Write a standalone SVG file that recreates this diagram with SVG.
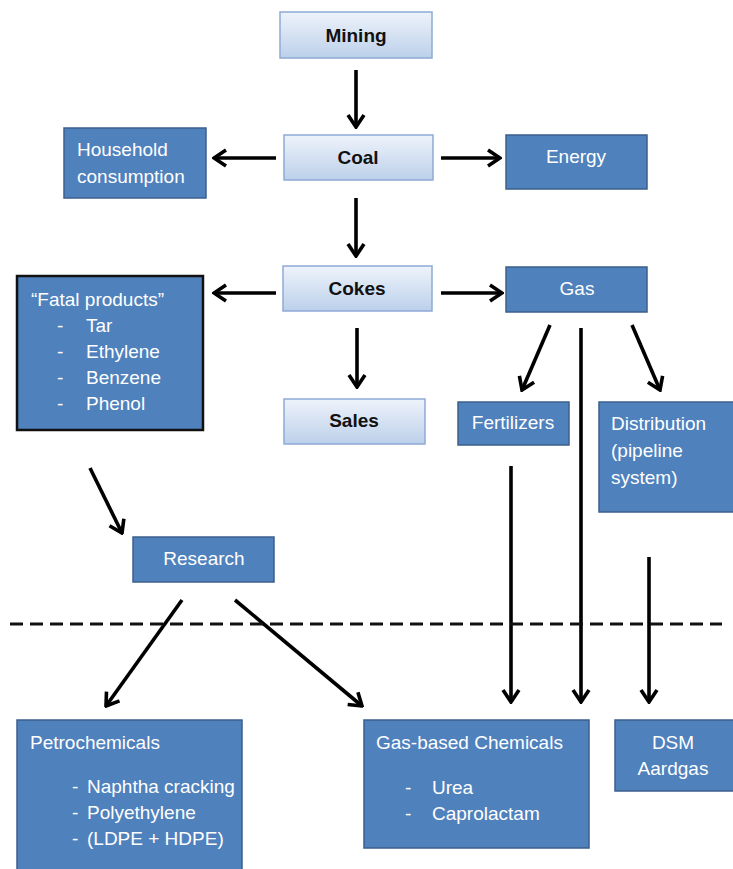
<svg xmlns="http://www.w3.org/2000/svg" width="733" height="869" viewBox="0 0 733 869">
<defs>
<linearGradient id="lg" x1="0" y1="0" x2="0" y2="1">
<stop offset="0" stop-color="#eef3fb"/>
<stop offset="1" stop-color="#bcd0ea"/>
</linearGradient>
<marker id="ah" viewBox="0 0 16 20" refX="14" refY="10" markerWidth="16" markerHeight="20" markerUnits="userSpaceOnUse" orient="auto">
<path d="M2,2 L14,10 L2,18" fill="none" stroke="#000" stroke-width="3.6" stroke-linejoin="miter"/>
</marker>
<style>
.light{fill:url(#lg);stroke:#8eaad6;stroke-width:1.5}
.blue{fill:#4f81bd;stroke:#3b5f8c;stroke-width:1.5}
.fatal{fill:#4f81bd;stroke:#111;stroke-width:2.5}
.tb{font-family:"Liberation Sans",Arial,sans-serif;font-size:19px;font-weight:bold;fill:#111;text-anchor:middle}
.tw{font-family:"Liberation Sans",Arial,sans-serif;font-size:19px;fill:#fff}
.c{text-anchor:middle}
.arr{stroke:#000;stroke-width:3.6;fill:none;marker-end:url(#ah)}
.dash{stroke:#111;stroke-width:3;stroke-dasharray:13 7;fill:none}
</style>
</defs>
<rect width="733" height="869" fill="#fff"/>

<g id="connectors">
<line class="arr" x1="356" y1="70" x2="356" y2="127"/>
<line class="arr" x1="276" y1="158" x2="214" y2="158"/>
<line class="arr" x1="441" y1="158" x2="500" y2="158"/>
<line class="arr" x1="356" y1="198" x2="356" y2="256"/>
<line class="arr" x1="276" y1="293" x2="214" y2="293"/>
<line class="arr" x1="441" y1="293" x2="502" y2="293"/>
<line class="arr" x1="357" y1="328" x2="357" y2="387"/>
<line class="arr" x1="550" y1="325" x2="522" y2="390"/>
<line class="arr" x1="632" y1="325" x2="660" y2="390"/>
<line class="arr" x1="581" y1="328" x2="581" y2="702"/>
<line class="arr" x1="511" y1="466" x2="511" y2="702"/>
<line class="arr" x1="649" y1="557" x2="649" y2="702"/>
<line class="arr" x1="90" y1="468" x2="122" y2="533"/>
<line class="arr" x1="182" y1="600" x2="106" y2="706"/>
<line class="arr" x1="235" y1="600" x2="362" y2="706"/>
<line class="dash" x1="10" y1="624" x2="722" y2="624"/>
</g>

<g id="mining">
<rect class="light" x="280" y="12" width="152" height="46"/>
<text class="tb" x="356" y="42">Mining</text>
</g>
<g id="coal">
<rect class="light" x="284" y="135" width="149" height="45"/>
<text class="tb" x="358" y="164">Coal</text>
</g>
<g id="household">
<rect class="blue" x="64" y="128" width="142" height="70"/>
<text class="tw" x="77" y="156">Household</text>
<text class="tw" x="77" y="183">consumption</text>
</g>
<g id="energy">
<rect class="blue" x="506" y="135" width="141" height="54"/>
<text class="tw c" x="576" y="163">Energy</text>
</g>
<g id="cokes">
<rect class="light" x="283" y="266" width="149" height="45"/>
<text class="tb" x="357" y="295">Cokes</text>
</g>
<g id="fatal">
<rect class="fatal" x="17" y="276" width="186" height="154"/>
<text class="tw" x="31" y="306">“Fatal products”</text>
<text class="tw" x="57" y="332">-</text><text class="tw" x="86" y="332">Tar</text>
<text class="tw" x="57" y="358">-</text><text class="tw" x="86" y="358">Ethylene</text>
<text class="tw" x="57" y="384">-</text><text class="tw" x="86" y="384">Benzene</text>
<text class="tw" x="57" y="410">-</text><text class="tw" x="86" y="410">Phenol</text>
</g>
<g id="gas">
<rect class="blue" x="506" y="267" width="141" height="45"/>
<text class="tw c" x="577" y="295">Gas</text>
</g>
<g id="sales">
<rect class="light" x="284" y="399" width="141" height="45"/>
<text class="tb" x="354" y="427">Sales</text>
</g>
<g id="fertilizers">
<rect class="blue" x="458" y="402" width="111" height="43"/>
<text class="tw c" x="513" y="429">Fertilizers</text>
</g>
<g id="distribution">
<rect class="blue" x="599" y="402" width="136" height="110"/>
<text class="tw" x="611" y="430">Distribution</text>
<text class="tw" x="611" y="457">(pipeline</text>
<text class="tw" x="611" y="484">system)</text>
</g>
<g id="research">
<rect class="blue" x="133" y="537" width="141" height="45"/>
<text class="tw c" x="204" y="565">Research</text>
</g>
<g id="petrochemicals">
<rect class="blue" x="17" y="720" width="225" height="152"/>
<text class="tw" x="30" y="749">Petrochemicals</text>
<text class="tw" x="72" y="793">-</text><text class="tw" x="87" y="793">Naphtha cracking</text>
<text class="tw" x="72" y="819">-</text><text class="tw" x="87" y="819">Polyethylene</text>
<text class="tw" x="72" y="845">-</text><text class="tw" x="87" y="845">(LDPE + HDPE)</text>
</g>
<g id="gaschemicals">
<rect class="blue" x="364" y="720" width="225" height="128"/>
<text class="tw" x="376" y="749">Gas-based Chemicals</text>
<text class="tw" x="405" y="794">-</text><text class="tw" x="432" y="794">Urea</text>
<text class="tw" x="405" y="820">-</text><text class="tw" x="432" y="820">Caprolactam</text>
</g>
<g id="dsm">
<rect class="blue" x="615" y="720" width="120" height="71"/>
<text class="tw c" x="673" y="749">DSM</text>
<text class="tw c" x="673" y="775">Aardgas</text>
</g>
</svg>
